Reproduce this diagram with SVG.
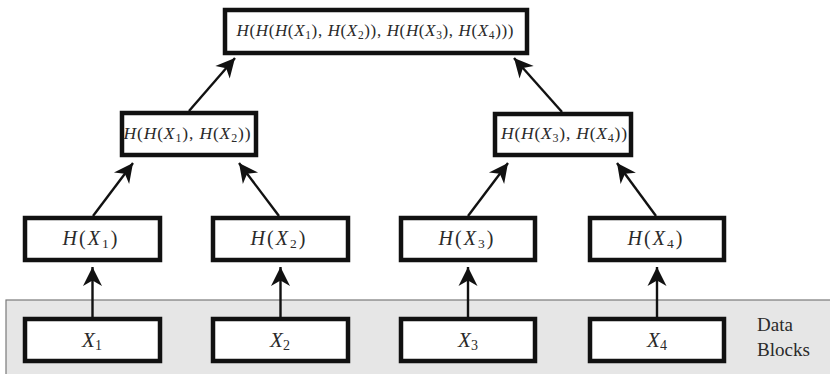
<svg xmlns="http://www.w3.org/2000/svg" width="830" height="374" viewBox="0 0 830 374" font-family="'Liberation Serif', 'DejaVu Serif', serif">
<style>
.box{fill:#fff;stroke:#111;stroke-width:4.5}
.t{font-family:'Liberation Serif','DejaVu Serif',serif;fill:#2a2a2a;text-anchor:middle}
.i{font-style:italic}
.c line{stroke:#111;stroke-width:2.4}
</style>
<defs>
<marker id="ah" viewBox="-20 -10 22 20" markerUnits="userSpaceOnUse" markerWidth="22" markerHeight="20" refX="0" refY="0" orient="auto">
<path d="M0,0 L-19,-9.5 L-13.5,0 L-19,9.5 Z" fill="#111"/>
</marker>
</defs>
<rect x="6" y="300" width="830" height="80" fill="#e6e6e6" stroke="#7a7a7a" stroke-width="1.2"/>
<g class="c">
<line x1="92.5" y1="317" x2="92.5" y2="267" marker-end="url(#ah)"/>
<line x1="280.5" y1="317" x2="280.5" y2="267" marker-end="url(#ah)"/>
<line x1="468" y1="317" x2="468" y2="267" marker-end="url(#ah)"/>
<line x1="657" y1="317" x2="657" y2="267" marker-end="url(#ah)"/>
<line x1="93" y1="216" x2="133" y2="163" marker-end="url(#ah)"/>
<line x1="279" y1="216" x2="239" y2="163" marker-end="url(#ah)"/>
<line x1="468" y1="216" x2="508" y2="163" marker-end="url(#ah)"/>
<line x1="656" y1="216" x2="617" y2="163" marker-end="url(#ah)"/>
<line x1="189" y1="111" x2="235" y2="58" marker-end="url(#ah)"/>
<line x1="562" y1="112" x2="514" y2="58" marker-end="url(#ah)"/>
</g>
<g id="x1"><rect class="box" x="25" y="319" width="135" height="42"/><text class="t" x="92" y="347" font-size="21"><tspan class="i">X</tspan><tspan font-size="14" dy="3">1</tspan></text></g>
<g id="x2"><rect class="box" x="213" y="319" width="135" height="42"/><text class="t" x="280" y="347" font-size="21"><tspan class="i">X</tspan><tspan font-size="14" dy="3">2</tspan></text></g>
<g id="x3"><rect class="box" x="401" y="319" width="134" height="42"/><text class="t" x="468" y="347" font-size="21"><tspan class="i">X</tspan><tspan font-size="14" dy="3">3</tspan></text></g>
<g id="x4"><rect class="box" x="590" y="319" width="134" height="42"/><text class="t" x="657" y="347" font-size="21"><tspan class="i">X</tspan><tspan font-size="14" dy="3">4</tspan></text></g>
<g id="hx1"><rect class="box" x="25" y="218" width="135" height="42"/><text class="t" x="90" y="245" font-size="20" textLength="55" lengthAdjust="spacing"><tspan class="i">H</tspan>(<tspan class="i">X</tspan><tspan font-size="13.5" dy="3">1</tspan><tspan dy="-3">)</tspan></text></g>
<g id="hx2"><rect class="box" x="213" y="218" width="135" height="42"/><text class="t" x="278" y="245" font-size="20" textLength="55" lengthAdjust="spacing"><tspan class="i">H</tspan>(<tspan class="i">X</tspan><tspan font-size="13.5" dy="3">2</tspan><tspan dy="-3">)</tspan></text></g>
<g id="hx3"><rect class="box" x="401" y="218" width="134" height="42"/><text class="t" x="466" y="245" font-size="20" textLength="55" lengthAdjust="spacing"><tspan class="i">H</tspan>(<tspan class="i">X</tspan><tspan font-size="13.5" dy="3">3</tspan><tspan dy="-3">)</tspan></text></g>
<g id="hx4"><rect class="box" x="590" y="218" width="134" height="42"/><text class="t" x="655" y="245" font-size="20" textLength="55" lengthAdjust="spacing"><tspan class="i">H</tspan>(<tspan class="i">X</tspan><tspan font-size="13.5" dy="3">4</tspan><tspan dy="-3">)</tspan></text></g>
<g id="h12"><rect class="box" x="122" y="113" width="134" height="42"/><text class="t" x="187" y="139" font-size="17.5" textLength="127" lengthAdjust="spacing" xml:space="preserve"><tspan class="i">H</tspan>(<tspan class="i">H</tspan>(<tspan class="i">X</tspan><tspan font-size="12" dy="3">1</tspan><tspan dy="-3">), </tspan><tspan class="i">H</tspan>(<tspan class="i">X</tspan><tspan font-size="12" dy="3">2</tspan><tspan dy="-3">))</tspan></text></g>
<g id="h34"><rect class="box" x="495" y="114" width="136" height="41"/><text class="t" x="564" y="139" font-size="17.5" textLength="126" lengthAdjust="spacing" xml:space="preserve"><tspan class="i">H</tspan>(<tspan class="i">H</tspan>(<tspan class="i">X</tspan><tspan font-size="12" dy="3">3</tspan><tspan dy="-3">), </tspan><tspan class="i">H</tspan>(<tspan class="i">X</tspan><tspan font-size="12" dy="3">4</tspan><tspan dy="-3">))</tspan></text></g>
<g id="root"><rect class="box" x="225" y="10" width="302" height="43"/><text class="t" x="375" y="36" font-size="17" textLength="277" lengthAdjust="spacing" xml:space="preserve"><tspan class="i">H</tspan>(<tspan class="i">H</tspan>(<tspan class="i">H</tspan>(<tspan class="i">X</tspan><tspan font-size="11.5" dy="3">1</tspan><tspan dy="-3">), </tspan><tspan class="i">H</tspan>(<tspan class="i">X</tspan><tspan font-size="11.5" dy="3">2</tspan><tspan dy="-3">)), </tspan><tspan class="i">H</tspan>(<tspan class="i">H</tspan>(<tspan class="i">X</tspan><tspan font-size="11.5" dy="3">3</tspan><tspan dy="-3">), </tspan><tspan class="i">H</tspan>(<tspan class="i">X</tspan><tspan font-size="11.5" dy="3">4</tspan><tspan dy="-3">)))</tspan></text></g>
<g id="label"><text class="t" x="757" y="331" font-size="19" style="text-anchor:start">Data</text><text class="t" x="757" y="356" font-size="19" style="text-anchor:start" textLength="53" lengthAdjust="spacingAndGlyphs">Blocks</text></g>
</svg>
